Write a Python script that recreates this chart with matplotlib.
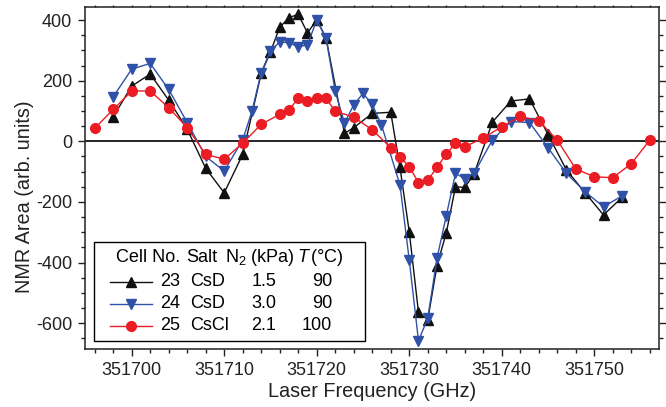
import matplotlib
matplotlib.use("Agg")
import matplotlib.pyplot as plt
from matplotlib.lines import Line2D
from matplotlib.patches import Rectangle
from matplotlib.ticker import MultipleLocator, ScalarFormatter

plt.rcParams['font.family'] = ['Liberation Sans', 'DejaVu Sans']
plt.rcParams['mathtext.fontset'] = 'custom'
plt.rcParams['mathtext.rm'] = 'Liberation Sans'
plt.rcParams['mathtext.it'] = 'Liberation Sans:italic'
plt.rcParams['axes.unicode_minus'] = False

# cell 23, CsD (black, up triangles)
f23 = [351698, 351700, 351702, 351704, 351706, 351708, 351710, 351712, 351714,
       351715, 351716, 351717, 351718, 351719, 351720, 351721, 351723, 351724,
       351726, 351728, 351729, 351730, 351731, 351732, 351733, 351734, 351735,
       351736, 351737, 351739, 351741, 351743, 351745, 351747, 351749, 351751,
       351753]
a23 = [81, 182, 222, 136, 40, -89, -170, -43, 224,
       295, 376, 408, 419, 358, 400, 342, 26, 45,
       92, 96, -86, -298, -564, -589, -410, -303, -150,
       -152, -108, 64, 133, 140, 23, -95, -169, -243,
       -185]

# cell 24, CsD (blue, down triangles)
f24 = [351698, 351700, 351702, 351704, 351706, 351708, 351710, 351712, 351713,
       351714, 351715, 351716, 351717, 351718, 351719, 351720, 351721, 351722,
       351723, 351724, 351725, 351726, 351727, 351729, 351730, 351731, 351732,
       351733, 351734, 351735, 351736, 351737, 351739, 351741, 351743, 351745,
       351747, 351749, 351751, 351753]
a24 = [147, 238, 257, 171, 62, -50, -98, 5, 99,
       227, 298, 328, 325, 312, 318, 400, 342, 165,
       60, 120, 158, 122, 54, -144, -391, -658, -584,
       -386, -246, -106, -123, -106, 5, 65, 62, -21,
       -106, -166, -216, -180]

# cell 25, CsCl (red, circles)
f25 = [351696, 351698, 351700, 351702, 351704, 351706, 351708, 351710, 351712,
       351714, 351716, 351717, 351718, 351719, 351720, 351721, 351722, 351724,
       351726, 351728, 351729, 351730, 351731, 351732, 351733, 351734, 351735,
       351736, 351738, 351740, 351742, 351744, 351746, 351748, 351750, 351752,
       351754, 351756]
a25 = [43, 105, 166, 166, 111, 45, -43, -59, -6,
       56, 89, 103, 142, 134, 144, 142, 99, 80,
       38, -21, -51, -84, -136, -128, -86, -42, -7,
       -18, 11, 48, 82, 68, 4, -91, -117, -120,
       -74, 4]

cells = ['23', '24', '25']
salts = ['CsD', 'CsD', 'CsCl']
n2_kpa = ['1.5', '3.0', '2.1']
temps = ['90', '90', '100']

black = '#111111'
blue = '#2f52a8'
red = '#ec1c24'

fig = plt.figure(figsize=(6.66, 4.07), dpi=100)
ax = fig.add_axes([0.1269, 0.1418, 0.8626, 0.8402])

ax.axhline(0, color='black', lw=1.2, zorder=1)
ax.plot(f23, a23, '-^', color=black, lw=1, ms=7.5, zorder=3)
ax.plot(f24, a24, '-v', color=blue, lw=1, ms=7.5, zorder=4)
ax.plot(f25, a25, '-o', color=red, lw=1, ms=7, zorder=5)

ax.set_xlim(351694.9, 351757)
ax.set_ylim(-686, 442)
ax.xaxis.set_major_locator(MultipleLocator(10))
ax.xaxis.set_minor_locator(MultipleLocator(2))
ax.yaxis.set_major_locator(MultipleLocator(200))
ax.yaxis.set_minor_locator(MultipleLocator(50))
ax.xaxis.set_major_formatter(ScalarFormatter(useOffset=False))

ax.tick_params(which='both', direction='out', labelsize=13, colors='#222222', width=1)
ax.tick_params(which='major', length=5, pad=4)
ax.tick_params(which='minor', length=3)
ax.tick_params(axis='x', which='both', top=True, labeltop=False)
ax.tick_params(axis='y', which='both', right=True, labelright=False)
# right / top ticks point inward, top ones very short
for t in ax.yaxis.get_major_ticks() + ax.yaxis.get_minor_ticks():
    t.tick2line.set_marker(matplotlib.lines.TICKRIGHT)
for t in ax.xaxis.get_major_ticks() + ax.xaxis.get_minor_ticks():
    t.tick2line.set_marker(matplotlib.lines.TICKUP)
    t.tick2line.set_markersize(1.5)
for sp in ax.spines.values():
    sp.set_linewidth(1.1)
    sp.set_color('#222222')

ax.set_xlabel('Laser Frequency (GHz)', fontsize=14.3, color='#222222', labelpad=2)
ax.set_ylabel('NMR Area (arb. units)', fontsize=14.3, color='#222222')
ax.yaxis.set_label_coords(-0.088, 0.445)

# legend table
tr = ax.transAxes
ax.add_patch(Rectangle((0.0165, 0.0243), 0.4718, 0.2903, transform=tr,
                       facecolor='white', edgecolor='black', lw=1, zorder=6))
fs = 13
ax.text(0.1105, 0.267, 'Cell No.', transform=tr, ha='center', va='center', fontsize=fs, zorder=7)
ax.text(0.2045, 0.267, 'Salt', transform=tr, ha='center', va='center', fontsize=fs, zorder=7)
ax.text(0.3046, 0.267, r'N$_2$ (kPa)', transform=tr, ha='center', va='center', fontsize=fs, zorder=7)
ax.text(0.4108, 0.267, r'$T\,$(°C)', transform=tr, ha='center', va='center', fontsize=fs, zorder=7)

row_y = [0.1977, 0.1325, 0.069]
styles = [('^', black), ('v', blue), ('o', red)]
for i in range(3):
    y = row_y[i]
    m, c = styles[i]
    ax.add_line(Line2D([0.0444, 0.1175], [y, y], transform=tr, color=c, lw=1, zorder=7))
    ax.add_line(Line2D([0.081], [y], transform=tr, color=c, marker=m, ms=7, zorder=8))
    ax.text(0.149, y, cells[i], transform=tr, ha='center', va='center', fontsize=fs, zorder=7)
    ax.text(0.1836, y, salts[i], transform=tr, ha='left', va='center', fontsize=fs, zorder=7)
    ax.text(0.3125, y, n2_kpa[i], transform=tr, ha='center', va='center', fontsize=fs, zorder=7)
    ax.text(0.4313, y, temps[i], transform=tr, ha='right', va='center', fontsize=fs, zorder=7)

fig.savefig('out.png', dpi=100)
